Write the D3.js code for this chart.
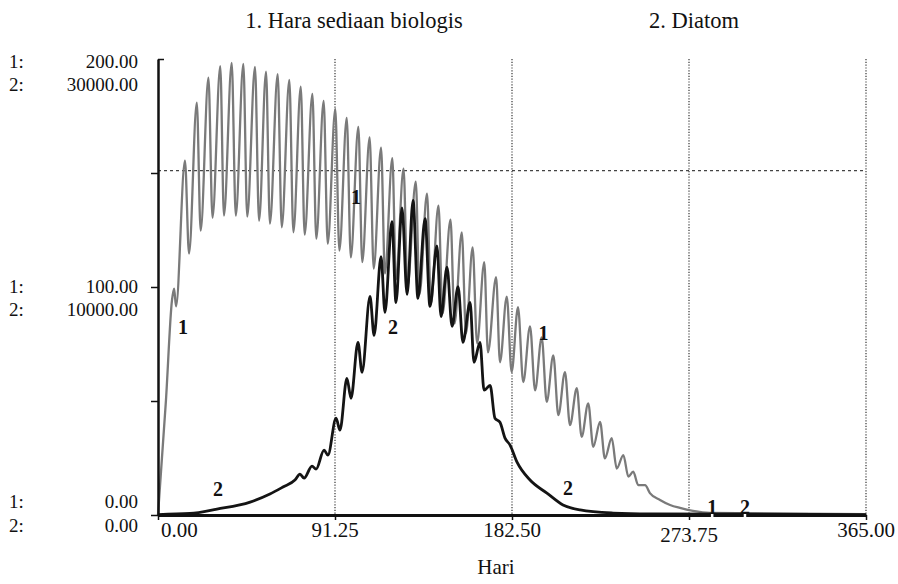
<!DOCTYPE html>
<html>
<head>
<meta charset="utf-8">
<script src="https://cdn.jsdelivr.net/npm/d3@7"></script>
<style>
  body { margin: 0; background: #fff; }
  text { font-family: "Liberation Serif", "Times New Roman", serif; fill: #111; }
</style>
</head>
<body>
<div id="chart"></div>
<script>
// Hara sediaan biologis (1) and Diatom (2) over one year
var xTicks = [0, 91.25, 182.5, 273.75, 365];
var xTickLabels = ["0.00", "91.25", "182.50", "273.75", "365.00"];
var yLevels = [0, 100, 200];
var yLabels1 = ["0.00", "100.00", "200.00"];
var yLabels2 = ["0.00", "10000.00", "30000.00"];
var yTicks1 = [0, 50, 100, 150, 200];

var hariHara = [0, 4.1, 7.2, 8.3, 9.3, 13.9, 16.0, 20.0, 22.0, 26.0, 28.1, 32.1, 34.0, 38.0, 40.1,
  44.0, 46.0, 50.0, 52.1, 55.7, 57.7, 61.7, 63.8, 67.7, 69.8, 73.6, 75.6, 79.6, 81.6, 85.4, 87.5,
  91.4, 93.5, 97.3, 99.4, 103.3, 105.3, 109.1, 111.2, 115.0, 117.0, 120.8, 122.7, 126.6, 128.6,
  132.9, 134.8, 138.7, 140.7, 144.6, 146.7, 150.8, 152.9, 156.6, 158.8, 162.2, 164.5, 168.2, 170.1,
  174.3, 176.3, 179.8, 182.3, 185.6, 188.3, 191.8, 194.4, 197.8, 200.4, 203.8, 206.4, 209.8, 212.4,
  215.9, 218.4, 221.8, 224.4, 227.9, 230.4, 233.9, 236.5, 239.9, 242.5, 245.0, 247.6, 251.1, 253.6,
  258.8, 264.0, 269.1, 275.8, 284.6, 365];
var hara = [0, 50.3, 94.1, 99.3, 91.5, 155.4, 114.7, 180.9, 124.7, 191.8, 130.4, 196.9, 131.3, 198.3, 131.3,
  197.8, 130.9, 196.5, 129.1, 194.4, 127.8, 193.4, 126.2, 190.8, 124.0, 187.9, 123.0, 184.7, 121.2, 181.6, 119.0,
  178.1, 116.0, 174.2, 113.0, 170.2, 110.9, 165.6, 108.1, 161.1, 105.9, 156.5, 103.3, 151.9, 100.2,
  146.2, 96.7, 140.9, 92.8, 135.7, 88.4, 129.5, 84.0, 124.0, 79.7, 117.4, 75.3, 110.9, 71.3,
  104.3, 67.0, 95.8, 62.7, 91.2, 58.3, 82.7, 54.7, 77.9, 49.6, 70.0, 43.8, 62.7, 39.4,
  55.6, 34.3, 49.0, 29.9, 40.8, 24.8, 33.7, 20.4, 26.3, 16.8, 19.0, 13.1, 13.1, 9.6,
  6.6, 4.4, 3.1, 1.8, 0.9, 0.4];

var hariDiatom = [0, 16.5, 30.4, 47.5, 57.7, 64.4, 70.6, 73.2, 75.3, 79.4, 81.5, 85.6, 87.6, 91.8, 93.8,
  97.4, 99.5, 103.1, 105.2, 109.3, 111.4, 115.0, 117.0, 120.6, 122.7, 125.8, 128.4, 131.5, 134.0,
  137.7, 140.2, 143.8, 145.9, 149.0, 151.6, 154.7, 157.2, 160.9, 162.9, 166.0, 168.1, 171.2, 173.7,
  176.3, 178.9, 181.5, 185.1, 191.8, 200.5, 208.8, 217.6, 234.6, 253.6, 365];
var diatom = [30, 100, 390, 850, 1380, 1840, 2300, 2690, 2430, 3220, 3020, 4270, 3940, 6370, 5580,
  8990, 7680, 11360, 9390, 14380, 11820, 17000, 13330, 19300, 13980, 20200, 14510, 20700, 14250,
  19500, 13720, 17700, 13060, 16300, 12410, 15030, 11360, 13980, 10040, 11360, 8210, 8530, 6370,
  6100, 5060, 4600, 3480, 2300, 1440, 660, 330, 130, 70, 30];

// where the curve numbers sit
var label1Days = [12.9, 102.1, 198.8, 285.7];
var label1Vals = [82.5, 139.5, 79.8, 3.5];
var label2Days = [30.9, 121.2, 211.4, 302.6];
var label2Vals = [1700, 12400, 1800, 530];

(function(d3) {

  var win_width = 898;
  var win_height = 584;

  var svg = d3.select("#chart")
    .append("svg")
    .attr("width", win_width)
    .attr("height", win_height);

  var x = d3.scaleLinear().domain([0, 365]).range([158, 866]);
  var y1 = d3.scaleLinear().domain([0, 200]).range([515, 59]);
  var y2 = d3.scaleLinear().domain([0, 30000]).range([515, 59]);

  // dotted grid
  svg.selectAll(".vgrid")
    .data(xTicks.slice(1))
    .enter().append("line")
    .attr("x1", function(d) { return x(d); })
    .attr("x2", function(d) { return x(d); })
    .attr("y1", y1(200))
    .attr("y2", y1(0))
    .style("stroke", "#444")
    .style("stroke-width", 1.3)
    .style("stroke-dasharray", "1.2,1.6");

  svg.append("line")
    .attr("x1", x(0)).attr("x2", x(365))
    .attr("y1", y1(151)).attr("y2", y1(151))
    .style("stroke", "#444")
    .style("stroke-width", 1.3)
    .style("stroke-dasharray", "3,3");

  // series
  var line1 = d3.line()
    .x(function(d, i) { return x(hariHara[i]); })
    .y(function(d) { return y1(d); })
    .curve(d3.curveMonotoneX);

  var line2 = d3.line()
    .x(function(d, i) { return x(hariDiatom[i]); })
    .y(function(d) { return y2(d); })
    .curve(d3.curveMonotoneX);

  svg.append("path")
    .datum(hara)
    .attr("d", line1)
    .style("fill", "none")
    .style("stroke", "#7a7a7a")
    .style("stroke-width", 2.3);

  svg.append("path")
    .datum(diatom)
    .attr("d", line2)
    .style("fill", "none")
    .style("stroke", "#141414")
    .style("stroke-width", 2.8);

  // axes
  var yAxis = d3.axisLeft(y1).tickValues(yTicks1).tickSize(7).tickSizeOuter(0).tickFormat("");
  var gy = svg.append("g").attr("transform", "translate(" + x(0) + ",0)").call(yAxis);
  gy.select(".domain").style("stroke", "#111").style("stroke-width", 2.5);
  gy.selectAll(".tick line").style("stroke", "#111").style("stroke-width", 1.5);
  gy.select(".tick:last-of-type line").attr("x2", 6);

  var xAxis = d3.axisBottom(x).tickValues(xTicks).tickSize(5).tickSizeOuter(0).tickFormat("");
  var gx = svg.append("g").attr("transform", "translate(0," + y1(0) + ")").call(xAxis);
  gx.select(".domain").style("stroke", "#111").style("stroke-width", 3);
  gx.selectAll(".tick line").style("stroke", "#111").style("stroke-width", 1.5);

  // curve numbers
  function numbers(days, vals, ys, txt) {
    days.forEach(function(d, i) {
      var px = x(d), py = ys(vals[i]);
      if (vals[i] < ys.domain()[1] * 0.03) {
        svg.append("line")
          .attr("x1", px).attr("x2", px)
          .attr("y1", y1(0) - 2).attr("y2", y1(0) + 2)
          .style("stroke", "#fff").style("stroke-width", 2.5);
      }
      svg.append("text")
        .attr("x", px).attr("y", py)
        .attr("text-anchor", "middle")
        .attr("dominant-baseline", "central")
        .style("font-size", "20px")
        .style("font-weight", "bold")
        .text(txt);
    });
  }
  numbers(label1Days, label1Vals, y1, "1");
  numbers(label2Days, label2Vals, y2, "2");

  // left value labels
  var rowBase1 = [508, 293, 68];
  var rowBase2 = [532, 316, 91];
  yLevels.forEach(function(v, i) {
    svg.append("text").attr("x", 9).attr("y", rowBase1[i]).style("font-size", "19px").text("1:");
    svg.append("text").attr("x", 9).attr("y", rowBase2[i]).style("font-size", "19px").text("2:");
    svg.append("text").attr("x", 138).attr("y", rowBase1[i]).attr("text-anchor", "end")
      .style("font-size", "19px").text(yLabels1[i]);
    svg.append("text").attr("x", 138).attr("y", rowBase2[i]).attr("text-anchor", "end")
      .style("font-size", "19px").text(yLabels2[i]);
  });

  // x tick labels
  svg.selectAll(".xlab")
    .data(xTicks)
    .enter().append("text")
    .attr("x", function(d, i) { return i === 0 ? x(d) + 3 : x(d); })
    .attr("y", function(d, i) { return i === 3 ? 542 : 537; })
    .attr("text-anchor", function(d, i) { return i === 0 ? "start" : "middle"; })
    .style("font-size", "21px")
    .text(function(d, i) { return xTickLabels[i]; });

  svg.append("text")
    .attr("x", 496).attr("y", 574)
    .attr("text-anchor", "middle")
    .style("font-size", "21px")
    .text("Hari");

  // legend titles
  svg.append("text").attr("x", 354).attr("y", 28).attr("text-anchor", "middle")
    .style("font-size", "22.5px").text("1. Hara sediaan biologis");
  svg.append("text").attr("x", 694).attr("y", 28).attr("text-anchor", "middle")
    .style("font-size", "22.5px").text("2. Diatom");

})(window.d3);
</script>
</body>
</html>
